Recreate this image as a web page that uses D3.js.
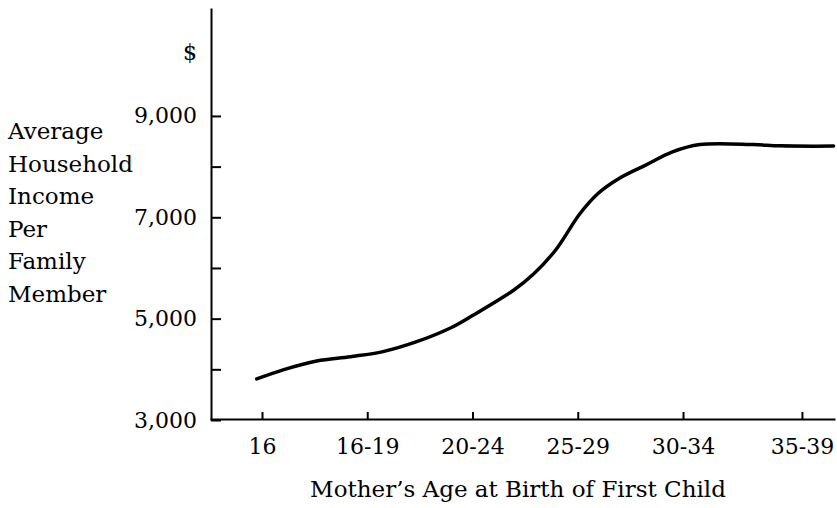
<html>
<head>
<style>
  body { margin: 0; background: #fff; }
  text { font-family: "DejaVu Serif", serif; fill: #000; }
</style>
</head>
<body>
<script src="https://cdnjs.cloudflare.com/ajax/libs/d3/7.8.5/d3.min.js"></script>
<div id="chart"></div>
<script>
  // category labels and where they sit along the axis (in category steps)
  var ageGroups = ["16", "16-19", "20-24", "25-29", "30-34", "35-39"];
  var groupPos = [0, 1, 2, 3, 4, 5.13];

  // curve: position (category steps) and income ($)
  var curvePos = [-0.05, 0.2, 0.52, 0.84, 1.15, 1.47, 1.79, 2.0, 2.39, 2.58, 2.79, 3.02, 3.19, 3.4, 3.65, 3.9, 4.16, 4.67, 4.92, 5.43];
  var income = [3810, 3990, 4165, 4250, 4350, 4545, 4815, 5060, 5560, 5880, 6355, 7070, 7465, 7775, 8035, 8290, 8435, 8435, 8410, 8405];

  var incomeTicks = [3000, 4000, 5000, 6000, 7000, 8000, 9000];
  var yTitle = ["Average", "Household", "Income", "Per", "Family", "Member"];

  var width = 837, height = 508;

  var svg = d3.select("#chart")
      .append("svg")
      .attr("width", width)
      .attr("height", height);

  var x = d3.scaleLinear()
      .domain([-0.494, 5.444])
      .range([210, 835]);

  var y = d3.scaleLinear()
      .domain([3000, 11130])
      .range([420, 8]);

  // y axis, ticks pointing inward
  svg.append("g")
      .attr("transform", "translate(211,0)")
      .call(d3.axisLeft(y)
          .tickValues(incomeTicks)
          .tickSize(-10)
          .tickSizeOuter(0)
          .tickPadding(14)
          .tickFormat(function (d) { return (d / 1000) % 2 == 1 ? d3.format(",")(d) : ""; }));

  // x axis, ticks pointing up
  svg.append("g")
      .attr("transform", "translate(0,419)")
      .call(d3.axisBottom(x)
          .tickValues(groupPos)
          .tickSize(-7)
          .tickSizeOuter(0)
          .tickPadding(19)
          .tickFormat(function (d, i) { return ageGroups[i]; }));

  svg.selectAll(".domain, .tick line")
      .attr("stroke", "#000")
      .attr("stroke-width", 2);

  svg.selectAll(".tick text")
      .style("font-family", "DejaVu Serif")
      .style("font-size", "22px")
      .attr("fill", "#000");

  svg.append("text")
      .attr("x", 197)
      .attr("y", 60)
      .attr("text-anchor", "end")
      .style("font-size", "22px")
      .text("$");

  svg.append("g").selectAll("text")
      .data(yTitle)
      .enter()
      .append("text")
      .attr("x", 8)
      .attr("y", function (d, i) { return 139 + i * 32.6; })
      .style("font-size", "23px")
      .text(function (d) { return d; });

  svg.append("text")
      .attr("x", 518)
      .attr("y", 497)
      .attr("text-anchor", "middle")
      .style("font-size", "23px")
      .text("Mother\u2019s Age at Birth of First Child");

  var points = curvePos.map(function (p, i) { return [p, income[i]]; });

  svg.append("path")
      .datum(points)
      .attr("fill", "none")
      .attr("stroke", "#000")
      .attr("stroke-width", 3.5)
      .attr("stroke-linecap", "round")
      .attr("d", d3.line()
          .curve(d3.curveCatmullRom)
          .x(function (d) { return x(d[0]); })
          .y(function (d) { return y(d[1]); }));
</script>
</body>
</html>
